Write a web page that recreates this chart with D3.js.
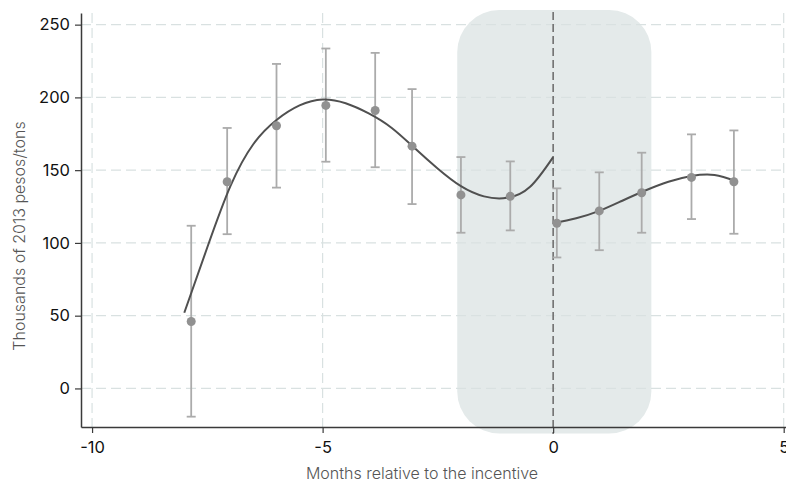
<!DOCTYPE html>
<html>
<head>
<meta charset="utf-8">
<script src="https://cdn.jsdelivr.net/npm/d3@7"></script>
<style>
  body { margin: 0; background: #fff; }
  text { font-family: Inter, "Liberation Sans", Arial, sans-serif; }
</style>
</head>
<body>
<div id="wrapper"></div>
<script>
// binned means with 95% CI
const months = [-7.85, -7.07, -6.0, -4.93, -3.86, -3.06, -2.0, -0.93, 0.08, 1.0, 1.92, 3.0, 3.92];
const means  = [46, 142, 180.5, 194.5, 191, 166.5, 133, 132, 113.5, 122, 134.5, 145, 142];
const ciLow  = [-19.4, 106, 138, 155.8, 152, 126.7, 107, 108.6, 90, 95, 107, 116.4, 106.3];
const ciHigh = [111.8, 179, 223, 233.6, 230.6, 205.7, 159, 156, 137.5, 148.5, 162, 174.6, 177.3];

// polynomial fit (before / after the incentive)
const fitPreX  = [-8, -7.5, -7, -6.5, -6, -5.5, -5, -4.5, -4, -3.5, -3, -2.5, -2, -1.5, -1, -0.5, 0];
const fitPreY  = [52, 97, 139, 168, 184.5, 194.5, 198.6, 196, 189, 179, 165, 151, 139, 132, 131, 138.6, 159];
const fitPostX = [0, 0.5, 1, 1.5, 2, 2.5, 3, 3.5, 3.95];
const fitPostY = [113.4, 116.9, 122, 129, 136, 142, 146, 146.7, 142.5];

const xTicks = [-10, -5, 0, 5];
const yTicks = [0, 50, 100, 150, 200, 250];
const windowBand = [-2.08, 2.13]; // shaded window, in months

const dimension = {
    width: 786,
    height: 486,
    left: 81,
    right: 786,
    top: 13,
    bottom: 427
};

const wrapper = d3.select("#wrapper");
const svg = wrapper.append("svg")
    .attr("width", dimension.width)
    .attr("height", dimension.height);

const scaleX = d3.scaleLinear()
    .domain([-10.24, 5.05])
    .range([dimension.left, dimension.right]);

const scaleY = d3.scaleLinear()
    .domain([-26.5, 258])
    .range([dimension.bottom, dimension.top]);

// shaded window
svg.append("rect")
    .attr("x", scaleX(windowBand[0]))
    .attr("y", scaleY(260))
    .attr("width", scaleX(windowBand[1]) - scaleX(windowBand[0]))
    .attr("height", scaleY(-31) - scaleY(260))
    .attr("rx", 42)
    .attr("fill", "#e4eaea");

// grid
const grid = svg.append("g")
    .attr("stroke", "#d9e1e1")
    .attr("stroke-width", 1.2)
    .attr("stroke-dasharray", "10,5");

grid.selectAll(".hgrid")
    .data(yTicks)
    .enter()
    .append("line")
    .attr("x1", dimension.left)
    .attr("x2", dimension.right)
    .attr("y1", d => scaleY(d))
    .attr("y2", d => scaleY(d));

grid.selectAll(".vgrid")
    .data(xTicks.filter(d => d !== 0))
    .enter()
    .append("line")
    .attr("x1", d => scaleX(d))
    .attr("x2", d => scaleX(d))
    .attr("y1", dimension.top)
    .attr("y2", dimension.bottom);

// incentive line
svg.append("line")
    .attr("x1", scaleX(0))
    .attr("x2", scaleX(0))
    .attr("y1", 12)
    .attr("y2", dimension.bottom + 7)
    .attr("stroke", "#707070")
    .attr("stroke-width", 1.6)
    .attr("stroke-dasharray", "8,4");

// axes
const xAxis = svg.append("g")
    .attr("transform", `translate(0,${dimension.bottom})`)
    .call(d3.axisBottom(scaleX).tickValues(xTicks).tickFormat(d => String(d))
        .tickSize(6).tickSizeOuter(0).tickPadding(8));

const yAxis = svg.append("g")
    .attr("transform", `translate(${dimension.left},0)`)
    .call(d3.axisLeft(scaleY).tickValues(yTicks).tickFormat(d => String(d))
        .tickSize(6).tickSizeOuter(0).tickPadding(5));

[xAxis, yAxis].forEach(ax => {
    ax.select(".domain").attr("stroke", "#3a3a3a").attr("stroke-width", 1.5);
    ax.selectAll(".tick line").attr("stroke", "#3a3a3a").attr("stroke-width", 1.2);
    ax.selectAll(".tick text")
        .attr("fill", "#111")
        .style("font-size", "16.5px")
        .style("font-family", "Inter, 'Liberation Sans', Arial, sans-serif");
});

// error bars
const bins = months.map((m, i) => ({ x: m, y: means[i], lo: ciLow[i], hi: ciHigh[i] }));
const bars = svg.append("g")
    .attr("stroke", "#ababab")
    .attr("stroke-width", 1.8);

bars.selectAll(".bar")
    .data(bins)
    .enter()
    .append("line")
    .attr("x1", d => scaleX(d.x))
    .attr("x2", d => scaleX(d.x))
    .attr("y1", d => scaleY(d.lo))
    .attr("y2", d => scaleY(d.hi));

const capW = 4.5;
["lo", "hi"].forEach(k => {
    bars.selectAll(".cap-" + k)
        .data(bins)
        .enter()
        .append("line")
        .attr("x1", d => scaleX(d.x) - capW)
        .attr("x2", d => scaleX(d.x) + capW)
        .attr("y1", d => scaleY(d[k]))
        .attr("y2", d => scaleY(d[k]));
});

// fitted curves
const line = d3.line()
    .x(d => scaleX(d[0]))
    .y(d => scaleY(d[1]))
    .curve(d3.curveNatural);

[[fitPreX, fitPreY], [fitPostX, fitPostY]].forEach(([xs, ys]) => {
    svg.append("path")
        .datum(xs.map((x, i) => [x, ys[i]]))
        .attr("d", line)
        .attr("fill", "none")
        .attr("stroke", "#505050")
        .attr("stroke-width", 2);
});

// points
svg.append("g")
    .selectAll("circle")
    .data(bins)
    .enter()
    .append("circle")
    .attr("cx", d => scaleX(d.x))
    .attr("cy", d => scaleY(d.y))
    .attr("r", 4.5)
    .attr("fill", "#919191");

// axis titles
svg.append("text")
    .attr("x", 422)
    .attr("y", 479)
    .attr("text-anchor", "middle")
    .attr("fill", "#555")
    .style("font-size", "16px")
    .style("font-weight", 300)
    .text("Months relative to the incentive");

svg.append("text")
    .attr("transform", "translate(25,236) rotate(-90)")
    .attr("text-anchor", "middle")
    .attr("fill", "#555")
    .style("font-size", "16px")
    .style("font-weight", 300)
    .text("Thousands of 2013 pesos/tons");
</script>
</body>
</html>
